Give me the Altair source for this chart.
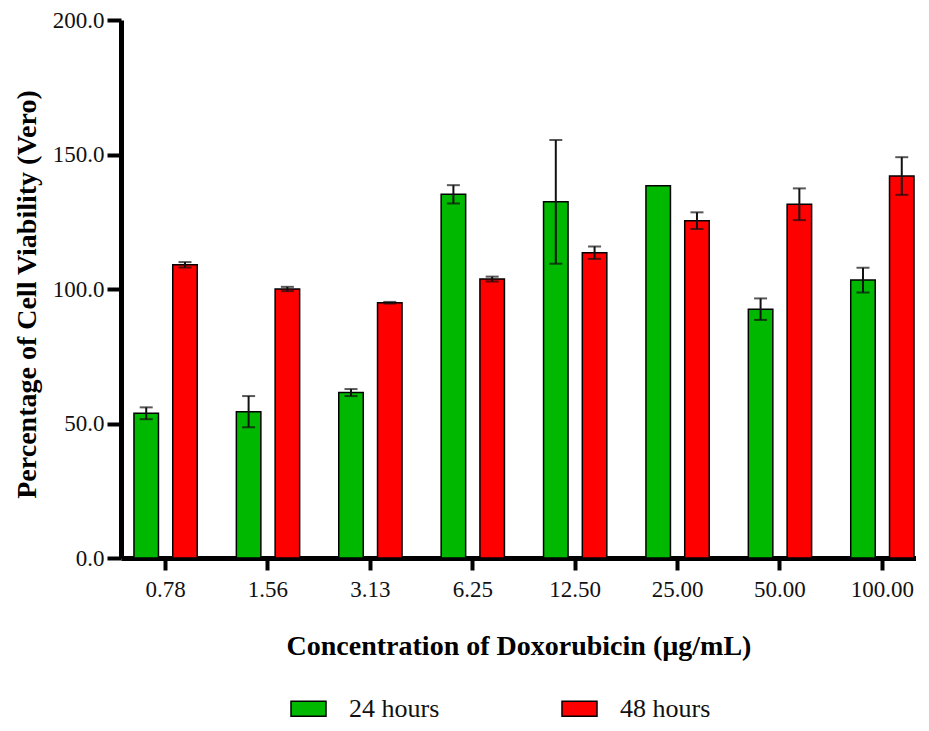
import altair as alt
import pandas as pd

concentrations = ["0.78", "1.56", "3.13", "6.25", "12.50", "25.00", "50.00", "100.00"]
series_names = ["24 hours", "48 hours"]
viability_24h = [53.8, 54.4, 61.5, 135.2, 132.4, 138.4, 92.5, 103.3]
error_24h = [2.2, 5.8, 1.3, 3.4, 23.0, 0.0, 4.0, 4.6]
viability_48h = [109.0, 100.0, 94.9, 103.7, 113.5, 125.4, 131.5, 142.0]
error_48h = [1.0, 0.8, 0.3, 0.9, 2.3, 3.1, 5.9, 7.0]
y_ticks = [0, 50, 100, 150, 200]
bar_colors = ["#00B800", "#FF0000"]

rows = []
for c, v, e in zip(concentrations, viability_24h, error_24h):
    rows.append({"conc": c, "series": series_names[0], "value": v, "err": e})
for c, v, e in zip(concentrations, viability_48h, error_48h):
    rows.append({"conc": c, "series": series_names[1], "value": v, "err": e})
df = pd.DataFrame(rows)

FONT = "Liberation Serif"

x_enc = alt.X(
    "conc:N",
    sort=concentrations,
    scale=alt.Scale(paddingInner=0.382, paddingOuter=0.073, align=0.867),
    axis=alt.Axis(
        title="Concentration of Doxorubicin (µg/mL)",
        labelAngle=0,
        labelFont=FONT,
        labelFontSize=23,
        labelColor="#111111",
        labelPadding=8,
        tickSize=12,
        tickWidth=4,
        tickColor="black",
        domainColor="black",
        domainWidth=5,
        titleFont=FONT,
        titleFontSize=28,
        titleFontWeight="bold",
        titleColor="black",
        titleY=96,
        titleBaseline="alphabetic",
        grid=False,
    ),
)
xoff_enc = alt.XOffset(
    "series:N",
    sort=series_names,
    scale=alt.Scale(domain=series_names, paddingInner=0.368, paddingOuter=0),
)
y_axis = alt.Axis(
    title="Percentage of Cell Viability (Vero)",
    values=y_ticks,
    format=".1f",
    labelFont=FONT,
    labelFontSize=23,
    labelColor="#111111",
    labelPadding=3,
    tickSize=14,
    tickWidth=4,
    tickColor="black",
    domainColor="black",
    domainWidth=5,
    titleFont=FONT,
    titleFontSize=28,
    titleFontWeight="bold",
    titleColor="black",
    titleAngle=270,
    titleX=-86,
    titleY=274,
    titleBaseline="alphabetic",
    grid=False,
)
y_scale = alt.Scale(domain=[0, 200], nice=False)

base = alt.Chart(df)

bars = base.mark_bar(stroke="black", strokeWidth=1.5).encode(
    x=x_enc,
    xOffset=xoff_enc,
    y=alt.Y("value:Q", scale=y_scale, axis=y_axis),
    color=alt.Color(
        "series:N",
        sort=series_names,
        scale=alt.Scale(domain=series_names, range=bar_colors),
        legend=alt.Legend(
            title=None,
            orient="none",
            direction="horizontal",
            legendX=169,
            legendY=670,
            padding=0,
            symbolType="M-1,-0.43L1,-0.43L1,0.43L-1,0.43Z",
            symbolSize=1225,
            symbolStrokeColor="black",
            symbolStrokeWidth=1.5,
            symbolOpacity=1,
            labelFont=FONT,
            labelFontSize=26,
            labelColor="#111111",
            labelOffset=22,
            columnPadding=119,
        ),
    ),
)

err_base = base.transform_filter("datum.err > 0").transform_calculate(
    lo="datum.value - datum.err", hi="datum.value + datum.err"
)

rules = err_base.mark_rule(color="#111111", strokeWidth=2).encode(
    x=alt.X("conc:N", sort=concentrations),
    xOffset=alt.XOffset("series:N", sort=series_names),
    y=alt.Y("lo:Q", scale=y_scale),
    y2="hi:Q",
)
caps_hi = err_base.mark_tick(color="#111111", thickness=2, size=13, orient="horizontal").encode(
    x=alt.X("conc:N", sort=concentrations),
    xOffset=alt.XOffset("series:N", sort=series_names),
    y=alt.Y("hi:Q", scale=y_scale),
)
caps_lo = err_base.mark_tick(color="#111111", thickness=2, size=13, orient="horizontal").encode(
    x=alt.X("conc:N", sort=concentrations),
    xOffset=alt.XOffset("series:N", sort=series_names),
    y=alt.Y("lo:Q", scale=y_scale),
)

chart = (
    alt.layer(bars, rules, caps_hi, caps_lo)
    .properties(
        width=795,
        height=538,
        autosize=alt.AutoSizeParams(type="none"),
        padding={"left": 113, "top": 12, "right": 0, "bottom": 165},
        background="white",
    )
    .configure_view(stroke=None)
)

chart.save("out.html", embed_options={"renderer": "svg", "actions": False})
